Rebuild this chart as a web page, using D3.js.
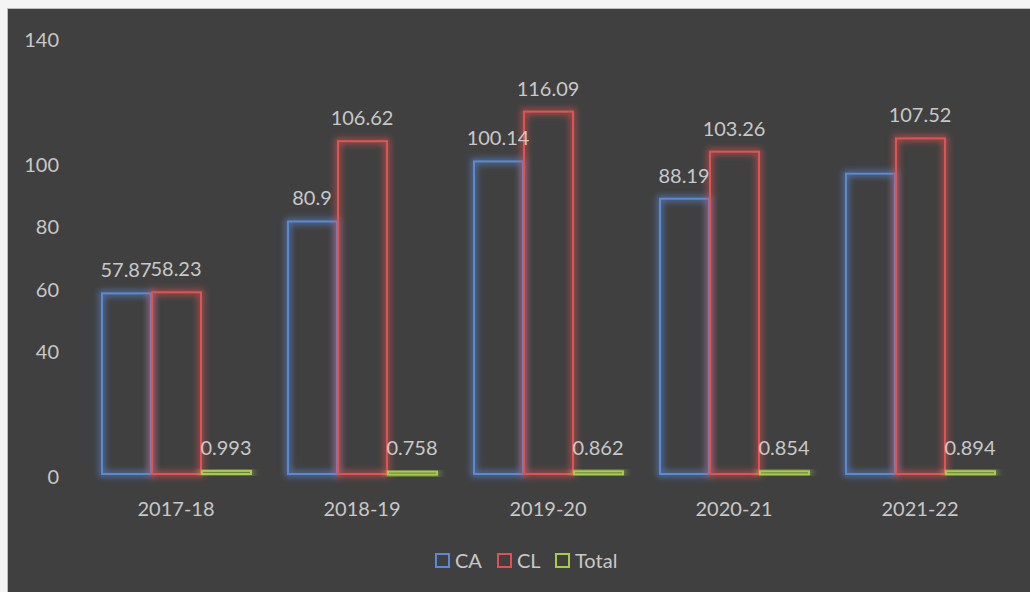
<!DOCTYPE html>
<html>
<head>
<meta charset="utf-8">
<script src="https://cdn.jsdelivr.net/npm/d3@7"></script>
<style>
  body { margin: 0; background: #f2f2f2; }
  svg { display: block; }
</style>
</head>
<body>
<div id="chart"></div>
<script>
/* Data */
const years = ["2017-18", "2018-19", "2019-20", "2020-21", "2021-22"];
const series = ["CA", "CL", "Total"];
const caValues = [57.87, 80.9, 100.14, 88.19, 96.2];
const clValues = [58.23, 106.62, 116.09, 103.26, 107.52];
const totalValues = [0.993, 0.758, 0.862, 0.854, 0.894];
const caLabels = ["57.87", "80.9", "100.14", "88.19", ""];
const clLabels = ["58.23", "106.62", "116.09", "103.26", "107.52"];
const totalLabels = ["0.993", "0.758", "0.862", "0.854", "0.894"];
const yTicks = [0, 40, 60, 80, 100, 140];

const colors = { CA: "#5a8ad4", CL: "#e05252", Total: "#a6cc4a" };

const data = years.map((y, i) => ({
  year: y,
  values: [
    { key: "CA", value: caValues[i], label: caLabels[i] },
    { key: "CL", value: clValues[i], label: clLabels[i] },
    { key: "Total", value: totalValues[i], label: totalLabels[i] }
  ]
}));

const width = 1030, height = 592;
const textColor = "#c8c8c8";
const font = "Lato, 'Open Sans', sans-serif";

const svg = d3.select("#chart").append("svg")
  .attr("width", width)
  .attr("height", height);

/* Background */
svg.append("rect")
  .attr("x", 0).attr("y", 0)
  .attr("width", width).attr("height", height)
  .attr("fill", "#f4f4f4");
svg.append("rect")
  .attr("x", 7.5).attr("y", 8.5)
  .attr("width", width).attr("height", height)
  .attr("fill", "#404040")
  .attr("stroke", "#bdbdbd")
  .attr("stroke-width", 1);

/* Glow filter */
const defs = svg.append("defs");
const glow = defs.append("filter")
  .attr("id", "glow")
  .attr("x", "-50%").attr("y", "-50%")
  .attr("width", "200%").attr("height", "200%");
glow.append("feMorphology")
  .attr("in", "SourceGraphic")
  .attr("operator", "dilate")
  .attr("radius", 1.5)
  .attr("result", "thick");
glow.append("feGaussianBlur")
  .attr("in", "thick")
  .attr("stdDeviation", 3)
  .attr("result", "blur");
glow.append("feComponentTransfer")
  .attr("in", "blur")
  .attr("result", "blurFaded")
  .append("feFuncA").attr("type", "linear").attr("slope", 0.6);
const merge = glow.append("feMerge");
merge.append("feMergeNode").attr("in", "blurFaded");
merge.append("feMergeNode").attr("in", "SourceGraphic");

/* Scales */
const x0 = d3.scaleBand()
  .domain(years)
  .range([83, 1013])
  .paddingInner(36 / 186)
  .paddingOuter(18 / 186);

const x1 = d3.scaleBand()
  .domain(series)
  .range([0, x0.bandwidth()]);

const y = d3.scaleLinear()
  .domain([0, 140])
  .range([474, 37]);

/* Y axis labels */
svg.append("g")
  .selectAll("text")
  .data(yTicks)
  .join("text")
  .attr("x", 59)
  .attr("y", d => y(d) + 3)
  .attr("dy", "0.35em")
  .attr("text-anchor", "end")
  .attr("font-family", font)
  .attr("font-size", "20px")
  .attr("fill", textColor)
  .text(d => d);

/* X axis labels */
svg.append("g")
  .selectAll("text")
  .data(years)
  .join("text")
  .attr("x", d => x0(d) + x0.bandwidth() / 2)
  .attr("y", 516)
  .attr("text-anchor", "middle")
  .attr("font-family", font)
  .attr("font-size", "20px")
  .attr("fill", textColor)
  .text(d => d);

/* Bars */
const groups = svg.append("g")
  .selectAll("g")
  .data(data)
  .join("g")
  .attr("transform", d => `translate(${x0(d.year)},0)`);

groups.selectAll("rect")
  .data(d => d.values)
  .join("rect")
  .attr("x", d => x1(d.key) + 1)
  .attr("y", d => y(d.value))
  .attr("width", x1.bandwidth() - 1)
  .attr("height", d => Math.max(y(0) - y(d.value), 3))
  .attr("fill", "none")
  .attr("stroke", d => colors[d.key])
  .attr("stroke-width", 2)
  .attr("filter", "url(#glow)");

groups.selectAll("text")
  .data(d => d.values.filter(v => v.label !== ""))
  .join("text")
  .attr("x", d => x1(d.key) + x1.bandwidth() / 2)
  .attr("y", d => Math.min(y(d.value), y(0) - 3) - 16)
  .attr("text-anchor", "middle")
  .attr("font-family", font)
  .attr("font-size", "20px")
  .attr("fill", textColor)
  .text(d => d.label);

/* Legend */
const legendItems = [
  { key: "CA", x: 435 },
  { key: "CL", x: 497 },
  { key: "Total", x: 555 }
];
const legend = svg.append("g");
legendItems.forEach(item => {
  legend.append("rect")
    .attr("x", item.x + 1)
    .attr("y", 554)
    .attr("width", 13)
    .attr("height", 13)
    .attr("fill", "none")
    .attr("stroke", colors[item.key])
    .attr("stroke-width", 2);
  legend.append("text")
    .attr("x", item.x + 20)
    .attr("y", 568)
    .attr("font-family", font)
    .attr("font-size", "20px")
    .attr("fill", textColor)
    .text(item.key);
});
</script>
</body>
</html>
